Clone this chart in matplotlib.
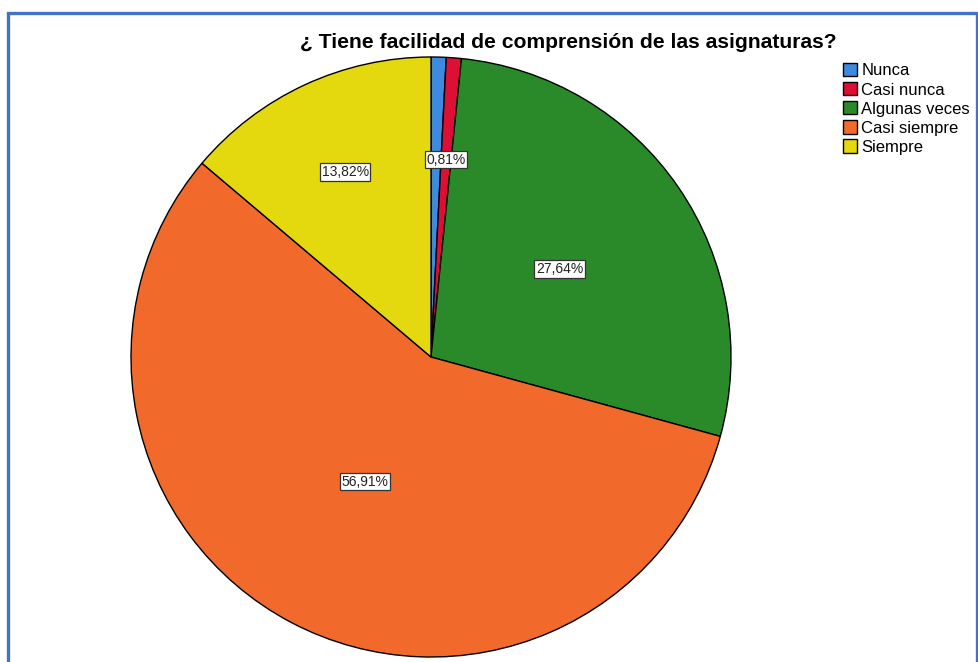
import numpy as np
import matplotlib
matplotlib.use("Agg")
import matplotlib.pyplot as plt
from matplotlib.patches import Rectangle

plt.rcParams['font.family'] = ['Liberation Sans', 'DejaVu Sans']

# data
categories = ["Nunca", "Casi nunca", "Algunas veces", "Casi siempre", "Siempre"]
percents = [0.81, 0.81, 27.64, 56.91, 13.82]
shown = [False, True, True, True, True]   # the first 0,81% label is hidden behind the second
label_dist = [0.66, 0.66, 0.52, 0.47, 0.68]
colors = ["#3d8be0", "#dc0f35", "#2a8a2a", "#f26a2b", "#e4d80e"]

W, H = 979, 662
fig = plt.figure(figsize=(W / 100, H / 100), dpi=100)

# pie axes: center (431,357) px, radius 300 px
cx, cy, r = 431, 357, 300
ax = fig.add_axes([(cx - r) / W, 1 - (cy + r) / H, 2 * r / W, 2 * r / H])
wedges, _ = ax.pie(percents, colors=colors, startangle=90, counterclock=False,
                   radius=1, wedgeprops=dict(edgecolor="black", linewidth=1.0))
ax.set_xlim(-1, 1)
ax.set_ylim(-1, 1)
ax.set_aspect("auto")
ax.axis("off")

for w, p, s, d in zip(wedges, percents, shown, label_dist):
    if not s:
        continue
    ang = np.deg2rad((w.theta1 + w.theta2) / 2)
    ax.text(d * np.cos(ang), d * np.sin(ang), f"{p:.2f}".replace(".", ",") + "%",
            ha="center", va="center", fontsize=10, color="#222222",
            bbox=dict(boxstyle="square,pad=0.12", facecolor="white",
                      edgecolor="#333333", linewidth=0.9))

fig.text(568 / W, 1 - 42 / H, "¿ Tiene facilidad de comprensión de las asignaturas?",
         ha="center", va="center", fontsize=15.2, fontweight="bold")

leg = fig.legend(wedges, categories, loc="upper left",
                 bbox_to_anchor=(843 / W, 1 - 63 / H), frameon=False,
                 fontsize=12, handlelength=0.85, handleheight=0.85,
                 handletextpad=0.25, labelspacing=0.22, borderpad=0, borderaxespad=0)

# blue frame
fig.patches.append(Rectangle((8.5 / W, -0.05), (977 - 8.5) / W, 1.05 - 13.5 / H,
                             transform=fig.transFigure, fill=False,
                             edgecolor="#4472c4", linewidth=2.4))

fig.savefig("out.png", dpi=100)
